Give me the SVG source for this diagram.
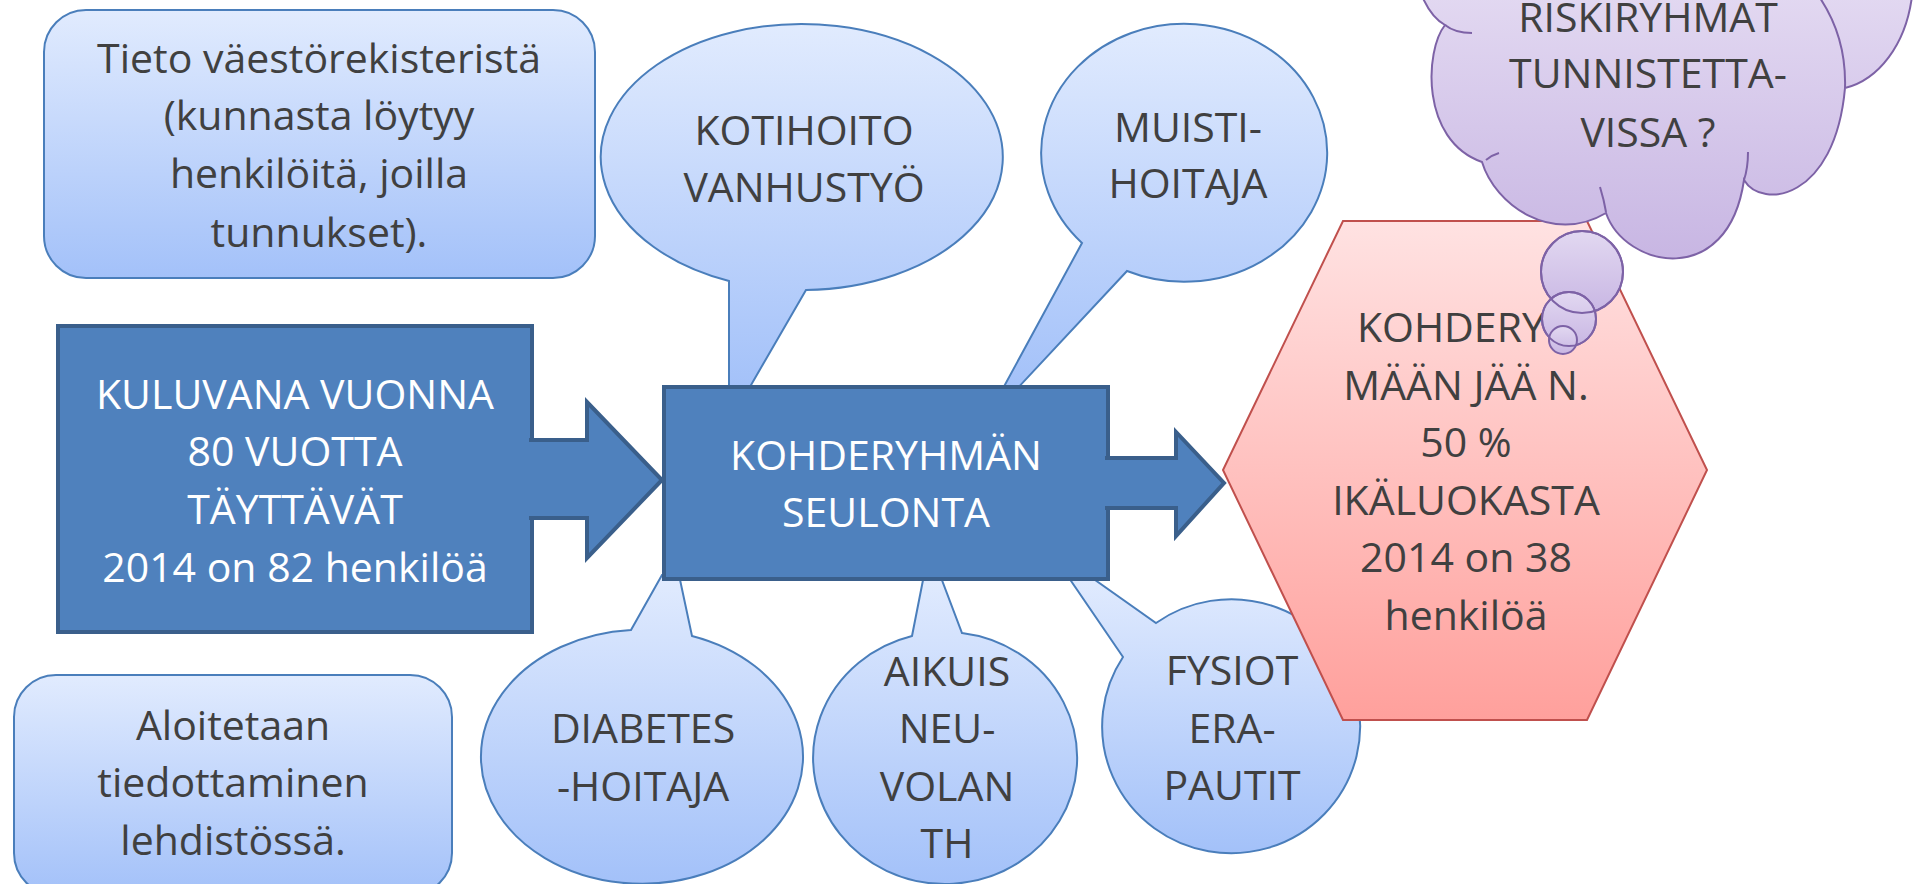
<svg xmlns="http://www.w3.org/2000/svg" width="1914" height="884" viewBox="0 0 1914 884">
<defs>
<linearGradient id="gBlue" x1="0" y1="0" x2="0" y2="1">
<stop offset="0" stop-color="#E1EBFE"/>
<stop offset="1" stop-color="#A3C1F9"/>
</linearGradient>
<linearGradient id="gPurple" x1="0" y1="0" x2="0" y2="1">
<stop offset="0" stop-color="#E2D8F1"/>
<stop offset="1" stop-color="#C8B6E3"/>
</linearGradient>
<linearGradient id="gRed" x1="0" y1="0" x2="0" y2="1">
<stop offset="0" stop-color="#FFE2E2"/>
<stop offset="1" stop-color="#FFA09C"/>
</linearGradient>
<style>
.lb{fill:url(#gBlue);stroke:#4A7EBB;stroke-width:2}
.db{fill:#4F81BD;stroke:#3A5F8B;stroke-width:4;stroke-linejoin:miter}
.pu{fill:url(#gPurple);stroke:#7D62A6;stroke-width:2}
.pl{fill:none;stroke:#7D62A6;stroke-width:2}
.hx{fill:url(#gRed);stroke:#C0504D;stroke-width:2}
text{font-family:"Open Sans","Lato","Liberation Sans",sans-serif;font-size:41px;text-anchor:middle}
.t{fill:#404040}
.w{fill:#FFFFFF}
</style>
</defs>

<g id="tieto">
<rect class="lb" x="44" y="10" width="551" height="268" rx="42" ry="42"/>
<text class="t" x="319" y="73">Tieto väestörekisteristä</text>
<text class="t" x="319" y="130">(kunnasta löytyy</text>
<text class="t" x="319" y="188">henkilöitä, joilla</text>
<text class="t" x="319" y="247">tunnukset).</text>
</g>

<g id="kotihoito">
<path class="lb" d="M729,281 L729,392 L747,392 L806,290 A201,133 0 1 0 729,281 Z"/>
<text class="t" x="804" y="145">KOTIHOITO</text>
<text class="t" x="804" y="202">VANHUSTYÖ</text>
</g>

<g id="muisti">
<path class="lb" d="M1082,243 L1001,392 L1014,392 L1127,271 A143,129 0 1 0 1082,243 Z"/>
<text class="t" x="1188" y="142">MUISTI-</text>
<text class="t" x="1188" y="198">HOITAJA</text>
</g>

<g id="diabetes">
<path class="lb" d="M631,630 L662,575 L679,575 L692,636 A161,127 0 1 1 631,630 Z"/>
<text class="t" x="643" y="743">DIABETES</text>
<text class="t" x="643" y="801">-HOITAJA</text>
</g>

<g id="aikuis">
<path class="lb" d="M912,636 L924,575 L940,575 L962,633 A132,126 0 1 1 912,636 Z"/>
<text class="t" x="947" y="686">AIKUIS</text>
<text class="t" x="947" y="743">NEU-</text>
<text class="t" x="947" y="801">VOLAN</text>
<text class="t" x="947" y="858">TH</text>
</g>

<g id="fysio">
<path class="lb" d="M1123,657 L1067,575 L1088,575 L1156,623 A129,127 0 1 1 1123,657 Z"/>
<text class="t" x="1232" y="685">FYSIOT</text>
<text class="t" x="1232" y="743">ERA-</text>
<text class="t" x="1232" y="800">PAUTIT</text>
</g>

<g id="aloitetaan">
<rect class="lb" x="14" y="675" width="438" height="220" rx="42" ry="42"/>
<text class="t" x="233" y="740">Aloitetaan</text>
<text class="t" x="233" y="797">tiedottaminen</text>
<text class="t" x="233" y="855">lehdistössä.</text>
</g>

<g id="kuluvana">
<rect class="db" x="58" y="326" width="474" height="306"/>
<text class="w" x="295" y="409">KULUVANA VUONNA</text>
<text class="w" x="295" y="466">80 VUOTTA</text>
<text class="w" x="295" y="524">TÄYTTÄVÄT</text>
<text class="w" x="295" y="582">2014 on 82 henkilöä</text>
</g>

<g id="seulonta">
<rect class="db" x="664" y="387" width="444" height="192"/>
<text class="w" x="886" y="470">KOHDERYHMÄN</text>
<text class="w" x="886" y="527">SEULONTA</text>
</g>

<g id="kohderyhma">
<polygon class="hx" points="1343,221 1587,221 1707,470 1587,720 1343,720 1223,470"/>
<text class="t" x="1466" y="342">KOHDERYH</text>
<text class="t" x="1466" y="400">MÄÄN JÄÄ N.</text>
<text class="t" x="1466" y="457">50 %</text>
<text class="t" x="1466" y="515">IKÄLUOKASTA</text>
<text class="t" x="1466" y="572">2014 on 38</text>
<text class="t" x="1466" y="630">henkilöä</text>
</g>

<g id="connectors">
<path class="db" d="M529,440 L587,440 L587,402 L662,480 L587,558 L587,518 L529,518"/>
<path class="db" d="M1105,458 L1176,458 L1176,432 L1224,483 L1176,536 L1176,508 L1105,508"/>
</g>

<g id="riskiryhmat">
<path class="pu" d="M1422,-4 C1428,10 1436,20 1445,25 C1425,50 1420,140 1482,162 C1495,205 1552,245 1606,213 C1625,268 1728,290 1744,180 C1762,210 1835,200 1845,88 C1878,80 1906,45 1912,-4 Z"/>
<path class="pl" d="M1445,25 Q1455,33 1472,33"/>
<path class="pl" d="M1486,160 Q1492,155 1499,153"/>
<path class="pl" d="M1600,187 Q1604,200 1606,212"/>
<path class="pl" d="M1748,152 Q1748,168 1744,180"/>
<path class="pl" d="M1820,-2 C1838,25 1846,55 1845,88"/>
<circle class="pu" cx="1582" cy="272" r="41"/>
<circle class="pu" cx="1569" cy="319" r="27"/>
<circle class="pu" cx="1563" cy="340" r="14"/>
<circle class="pl" cx="1582" cy="272" r="41"/>
<circle class="pl" cx="1569" cy="319" r="27"/>
<text class="t" x="1648" y="32">RISKIRYHMÄT</text>
<text class="t" x="1648" y="88">TUNNISTETTA-</text>
<text class="t" x="1648" y="147">VISSA ?</text>
</g>
</svg>
